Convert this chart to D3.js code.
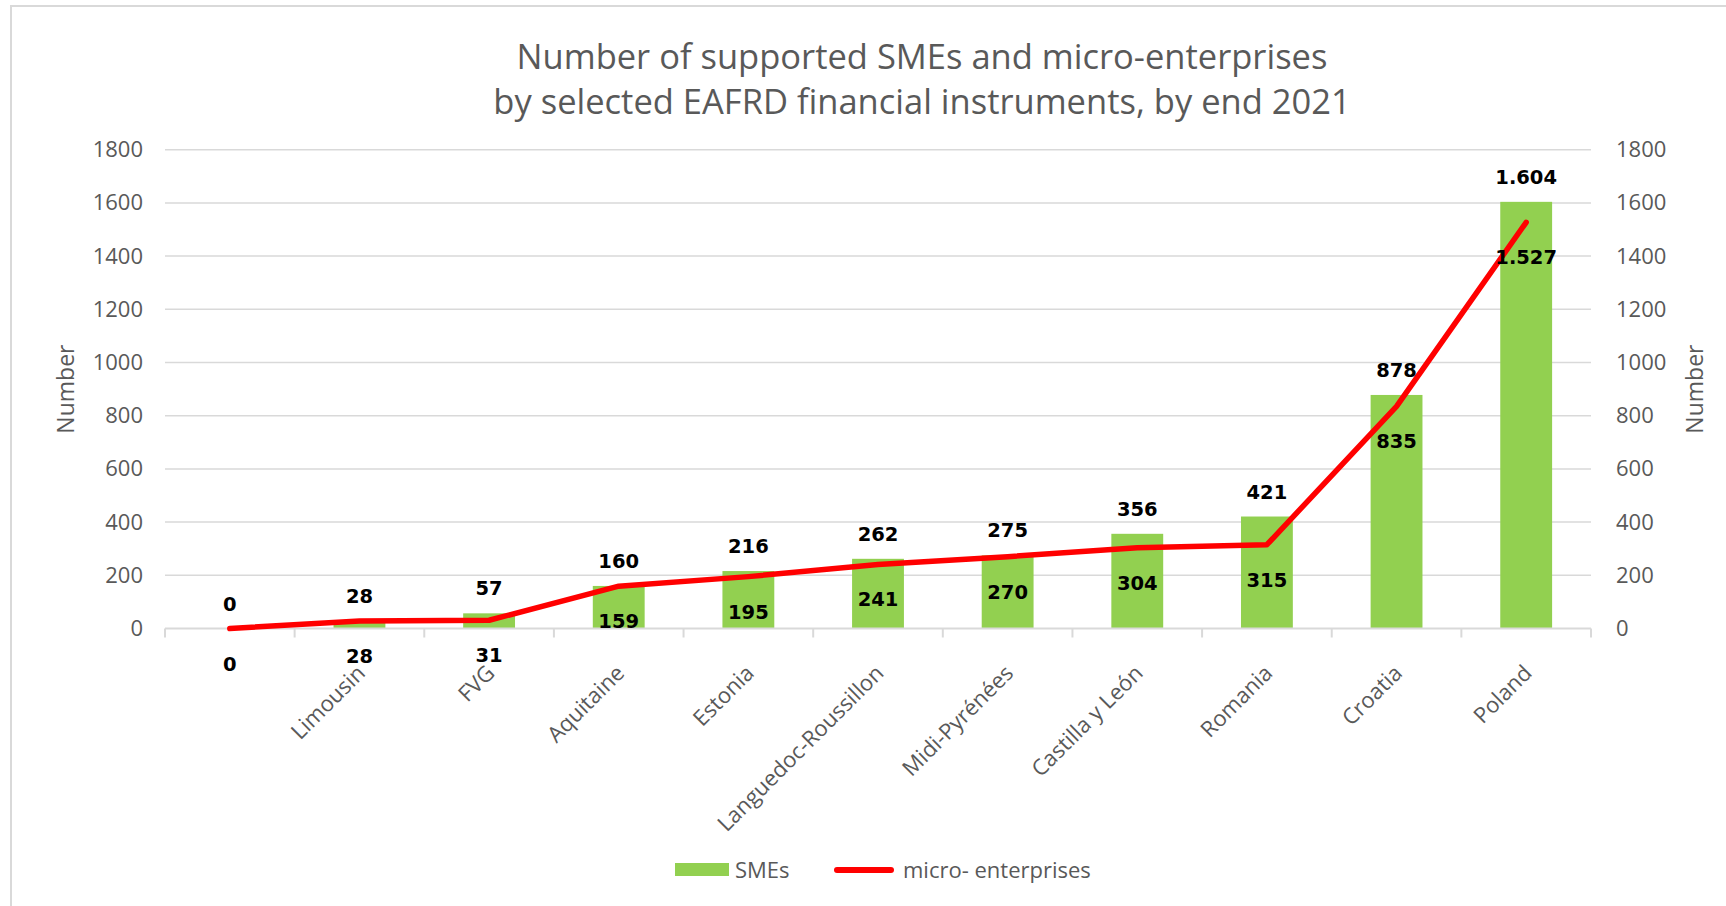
<!DOCTYPE html>
<html>
<head>
<meta charset="utf-8">
<script src="https://cdn.jsdelivr.net/npm/d3@7"></script>
<style>
  body { margin: 0; background: #fff; }
  svg { display: block; }
</style>
</head>
<body>
<svg id="chart" width="1726" height="906"></svg>
<script>
  "use strict";

  // Data
  var categories = ["", "Limousin", "FVG", "Aquitaine", "Estonia", "Languedoc-Roussillon",
    "Midi-Pyrénées", "Castilla y León", "Romania", "Croatia", "Poland"];
  var smes = [0, 28, 57, 160, 216, 262, 275, 356, 421, 878, 1604];
  var microEnterprises = [0, 28, 31, 159, 195, 241, 270, 304, 315, 835, 1527];
  var yTicks = [0, 200, 400, 600, 800, 1000, 1200, 1400, 1600, 1800];
  var titleLines = ["Number of supported SMEs and micro-enterprises",
    "by selected EAFRD financial instruments, by end 2021"];

  var W = 1726, H = 906;
  var margin = { left: 165, right: W - 1591, top: 149.7, bottom: H - 628.5 };
  var gray = "#595959", light = "#d9d9d9";
  var green = "#92d050", red = "#ff0000";
  var labelFont = "'DejaVu Sans', sans-serif";
  var textFont = "'Open Sans', sans-serif";

  // Format numbers the way the source does (dot as thousands separator)
  function fmt(v) {
    return String(v).replace(/\B(?=(\d{3})+(?!\d))/g, ".");
  }

  var svg = d3.select("#chart");

  // Outer chart frame (only left and top edges visible in the picture)
  svg.append("rect")
    .attr("x", 11).attr("y", 6)
    .attr("width", W + 20).attr("height", H + 20)
    .attr("fill", "none").attr("stroke", light).attr("stroke-width", 2);

  var x = d3.scaleBand()
    .domain(categories.map(function (d, i) { return i; }))
    .range([margin.left, W - margin.right])
    .paddingInner(0.6).paddingOuter(0.3);

  var y = d3.scaleLinear()
    .domain([0, 1800])
    .range([H - margin.bottom, margin.top]);

  function cx(i) { return x(i) + x.bandwidth() / 2; }

  // Title
  svg.append("text")
    .attr("x", 922).attr("y", 69)
    .attr("text-anchor", "middle")
    .attr("font-family", textFont).attr("font-size", 34.5)
    .attr("fill", gray)
    .selectAll("tspan")
    .data(titleLines)
    .enter().append("tspan")
    .attr("x", 922)
    .attr("dy", function (d, i) { return i === 0 ? 0 : 45; })
    .text(function (d) { return d; });

  // Gridlines
  svg.append("g")
    .selectAll("line")
    .data(yTicks.slice(1))
    .enter().append("line")
    .attr("x1", margin.left).attr("x2", W - margin.right)
    .attr("y1", function (d) { return y(d); })
    .attr("y2", function (d) { return y(d); })
    .attr("stroke", light).attr("stroke-width", 1.5);

  // Left and right value axes (labels only)
  var leftAxis = svg.append("g")
    .attr("transform", "translate(" + (margin.left - 22) + ",0)")
    .call(d3.axisLeft(y).tickValues(yTicks).tickFormat(d3.format("d")).tickSize(0).tickPadding(0));
  var rightAxis = svg.append("g")
    .attr("transform", "translate(" + (W - margin.right + 25) + ",0)")
    .call(d3.axisRight(y).tickValues(yTicks).tickFormat(d3.format("d")).tickSize(0).tickPadding(0));
  [leftAxis, rightAxis].forEach(function (g) {
    g.select(".domain").remove();
    g.selectAll("text")
      .attr("font-family", textFont).attr("font-size", 22)
      .attr("fill", gray);
  });

  // Axis titles
  [66, 1695].forEach(function (tx) {
    svg.append("text")
      .attr("transform", "translate(" + tx + "," + ((y(0) + y(1800)) / 2) + ") rotate(-90)")
      .attr("text-anchor", "middle")
      .attr("dy", "0.35em")
      .attr("font-family", textFont).attr("font-size", 23)
      .attr("fill", gray)
      .text("Number");
  });

  // Bars
  svg.append("g")
    .selectAll("rect")
    .data(smes)
    .enter().append("rect")
    .attr("x", function (d, i) { return x(i); })
    .attr("width", x.bandwidth())
    .attr("y", function (d) { return y(d); })
    .attr("height", function (d) { return y(0) - y(d); })
    .attr("fill", green);

  // Category axis
  var step = x.step();
  var boundaries = d3.range(categories.length + 1).map(function (i) {
    return margin.left + i * step;
  });
  svg.append("line")
    .attr("x1", margin.left).attr("x2", W - margin.right)
    .attr("y1", y(0)).attr("y2", y(0))
    .attr("stroke", light).attr("stroke-width", 2);
  svg.append("g")
    .selectAll("line")
    .data(boundaries)
    .enter().append("line")
    .attr("x1", function (d) { return d; }).attr("x2", function (d) { return d; })
    .attr("y1", y(0)).attr("y2", y(0) + 9)
    .attr("stroke", light).attr("stroke-width", 2);

  svg.append("g")
    .selectAll("text")
    .data(categories)
    .enter().append("text")
    .attr("transform", function (d, i) {
      return "translate(" + (cx(i) + 7) + "," + (y(0) + 46) + ") rotate(-45)";
    })
    .attr("text-anchor", "end")
    .attr("font-family", textFont).attr("font-size", 22)
    .attr("fill", gray)
    .text(function (d) { return d; });

  // Line
  var line = d3.line()
    .x(function (d, i) { return cx(i); })
    .y(function (d) { return y(d); });
  svg.append("path")
    .datum(microEnterprises)
    .attr("d", line)
    .attr("fill", "none")
    .attr("stroke", red).attr("stroke-width", 5.5)
    .attr("stroke-linejoin", "round").attr("stroke-linecap", "round");

  // Data labels
  svg.append("g")
    .selectAll("text")
    .data(smes)
    .enter().append("text")
    .attr("x", function (d, i) { return cx(i); })
    .attr("y", function (d) { return y(d) - 18; })
    .attr("text-anchor", "middle")
    .attr("font-family", labelFont).attr("font-weight", "bold").attr("font-size", 19.5)
    .attr("fill", "#000")
    .text(fmt);

  svg.append("g")
    .selectAll("text")
    .data(microEnterprises)
    .enter().append("text")
    .attr("x", function (d, i) { return cx(i); })
    .attr("y", function (d) { return y(d) + 42; })
    .attr("text-anchor", "middle")
    .attr("font-family", labelFont).attr("font-weight", "bold").attr("font-size", 19.5)
    .attr("fill", "#000")
    .text(fmt);

  // Legend
  var legend = svg.append("g").attr("font-family", textFont).attr("font-size", 22).attr("fill", gray);
  legend.append("rect")
    .attr("x", 675).attr("y", 863).attr("width", 54).attr("height", 13)
    .attr("fill", green);
  legend.append("text")
    .attr("x", 735).attr("y", 870).attr("dy", "0.35em")
    .text("SMEs");
  legend.append("line")
    .attr("x1", 837).attr("x2", 891).attr("y1", 870).attr("y2", 870)
    .attr("stroke", red).attr("stroke-width", 6).attr("stroke-linecap", "round");
  legend.append("text")
    .attr("x", 903).attr("y", 870).attr("dy", "0.35em")
    .text("micro- enterprises");
</script>
</body>
</html>
